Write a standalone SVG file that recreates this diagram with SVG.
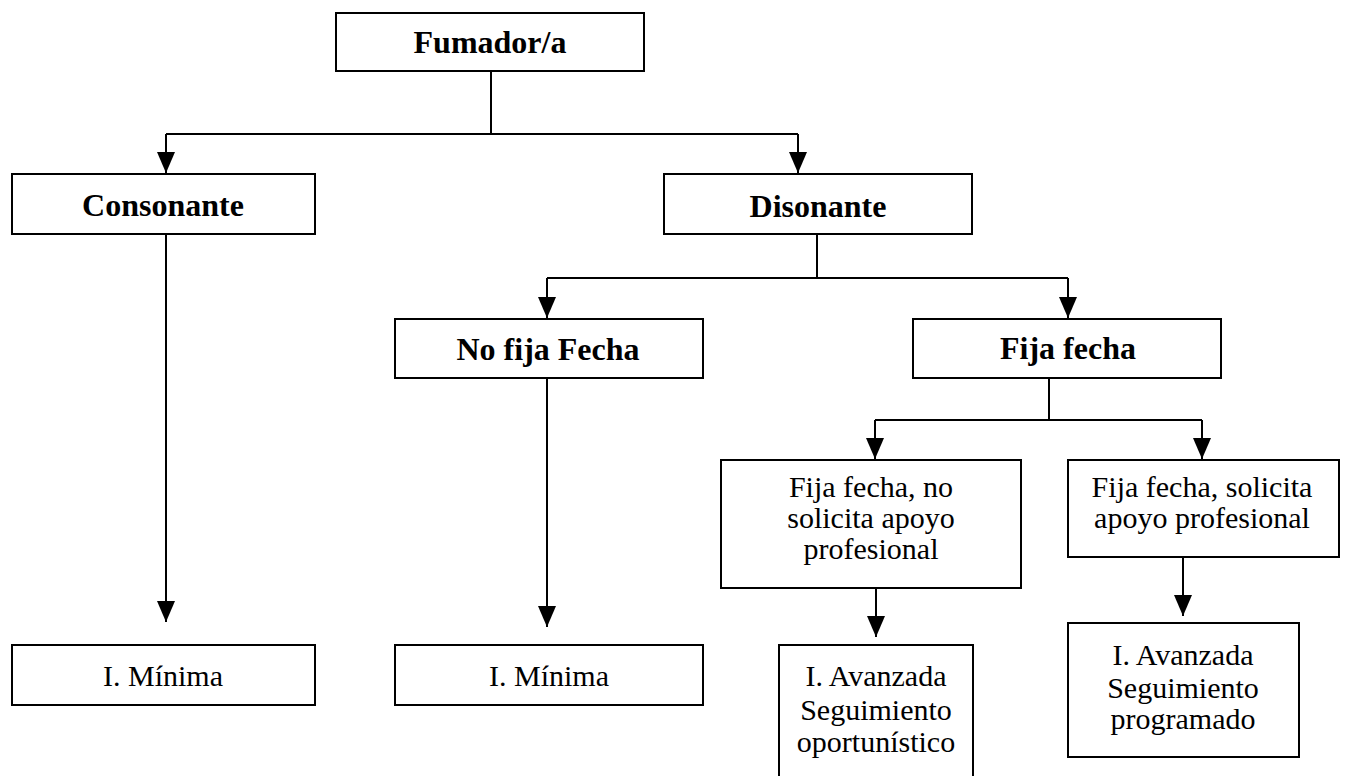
<svg xmlns="http://www.w3.org/2000/svg" width="1345" height="776" viewBox="0 0 1345 776">
<style>
.box{fill:#fff;stroke:#000;stroke-width:2}
.c{fill:none;stroke:#000;stroke-width:2}
.b{font-family:"Liberation Serif","Times New Roman",serif;font-weight:bold;font-size:32px;text-anchor:middle;fill:#000}
.r{font-family:"Liberation Serif","Times New Roman",serif;font-size:30px;text-anchor:middle;fill:#000}
</style>
<defs>
<marker id="ah" markerUnits="userSpaceOnUse" viewBox="0 0 21 18" refX="21" refY="9" markerWidth="21" markerHeight="18" orient="auto">
<path d="M0,0 L21,9 L0,18 z" fill="#000"/>
</marker>
</defs>
<rect width="1345" height="776" fill="#fff"/>
<g id="connectors">
<path class="c" d="M491,71 V134 M166,134 H798"/>
<path class="c" d="M166,134 V173" marker-end="url(#ah)"/>
<path class="c" d="M798,134 V173" marker-end="url(#ah)"/>
<path class="c" d="M817,234 V278 M547,278 H1068"/>
<path class="c" d="M547,278 V318" marker-end="url(#ah)"/>
<path class="c" d="M1068,278 V318" marker-end="url(#ah)"/>
<path class="c" d="M166,234 V622" marker-end="url(#ah)"/>
<path class="c" d="M547,378 V627" marker-end="url(#ah)"/>
<path class="c" d="M1049,378 V420 M875,420 H1202"/>
<path class="c" d="M875,420 V459" marker-end="url(#ah)"/>
<path class="c" d="M1202,420 V459" marker-end="url(#ah)"/>
<path class="c" d="M876,588 V637" marker-end="url(#ah)"/>
<path class="c" d="M1183,557 V616" marker-end="url(#ah)"/>
</g>
<g id="fumador">
<rect class="box" x="336" y="13" width="308" height="58"/>
<text class="b" x="490" y="53">Fumador/a</text>
</g>
<g id="consonante">
<rect class="box" x="12" y="174" width="303" height="60"/>
<text class="b" x="163" y="216">Consonante</text>
</g>
<g id="disonante">
<rect class="box" x="664" y="174" width="308" height="60"/>
<text class="b" x="818" y="217">Disonante</text>
</g>
<g id="no-fija">
<rect class="box" x="395" y="319" width="308" height="59"/>
<text class="b" x="548" y="360">No fija Fecha</text>
</g>
<g id="fija">
<rect class="box" x="913" y="319" width="308" height="59"/>
<text class="b" x="1068" y="359">Fija fecha</text>
</g>
<g id="fija-no-solicita">
<rect class="box" x="721" y="460" width="300" height="128"/>
<text class="r" x="871" y="497">Fija fecha, no</text>
<text class="r" x="871" y="528">solicita apoyo</text>
<text class="r" x="871" y="559">profesional</text>
</g>
<g id="fija-solicita">
<rect class="box" x="1068" y="460" width="271" height="97"/>
<text class="r" x="1202" y="497">Fija fecha, solicita</text>
<text class="r" x="1202" y="528">apoyo profesional</text>
</g>
<g id="minima1">
<rect class="box" x="12" y="645" width="303" height="60"/>
<text class="r" x="163" y="686">I. Mínima</text>
</g>
<g id="minima2">
<rect class="box" x="395" y="645" width="308" height="60"/>
<text class="r" x="549" y="686">I. Mínima</text>
</g>
<g id="avanzada-oport">
<rect class="box" x="779" y="645" width="194" height="150"/>
<text class="r" x="876" y="686">I. Avanzada</text>
<text class="r" x="876" y="720">Seguimiento</text>
<text class="r" x="876" y="752">oportunístico</text>
</g>
<g id="avanzada-prog">
<rect class="box" x="1068" y="623" width="231" height="134"/>
<text class="r" x="1183" y="665">I. Avanzada</text>
<text class="r" x="1183" y="698">Seguimiento</text>
<text class="r" x="1183" y="729">programado</text>
</g>
</svg>
